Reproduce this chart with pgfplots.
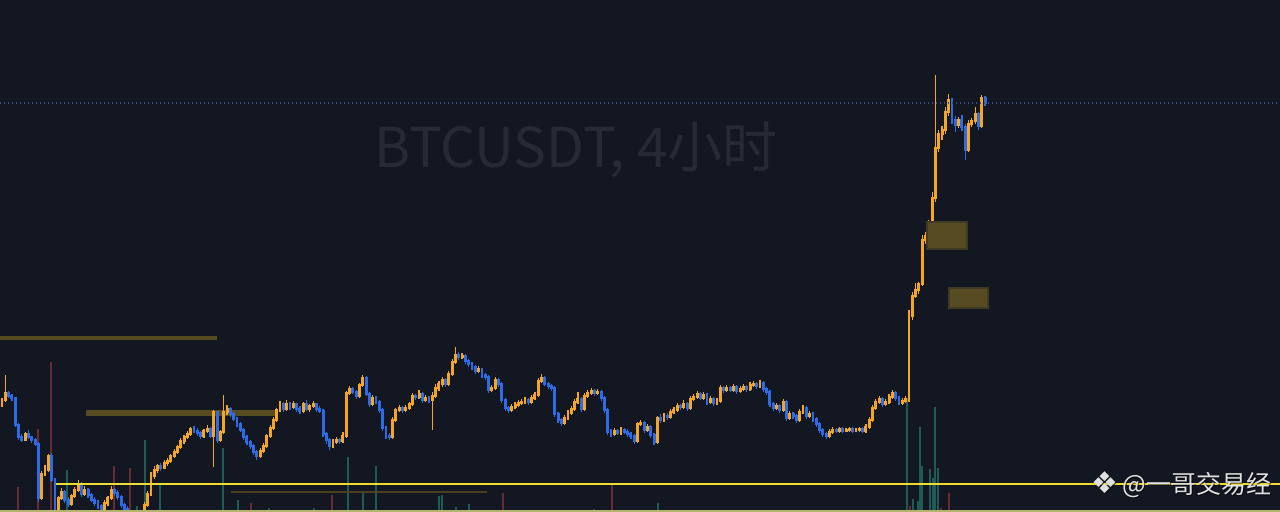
\documentclass[border=0pt]{standalone}
\usepackage{pgfplots}
\pgfplotsset{compat=1.18}
\usepackage{pgfplotstable}
\usepackage{fontspec}
\newfontfamily\cjk{Noto Sans CJK SC}
\newfontfamily\dejavu{DejaVu Sans}
\definecolor{bgc}{HTML}{131722}
\definecolor{upc}{HTML}{F5A623}
\definecolor{dnc}{HTML}{2E6BE6}
\definecolor{volup}{HTML}{1E5A56}
\definecolor{voldn}{HTML}{6A2A33}
\definecolor{zone}{HTML}{574C21}
\definecolor{zonebd}{HTML}{3E3A26}
\definecolor{yel}{HTML}{EEDC34}
\definecolor{botl}{HTML}{B5B46E}
\definecolor{dotc}{HTML}{3A4C84}
\definecolor{titc}{HTML}{262A35}

\pgfplotstableread{
o h l c
108 114 105 112
112 137 110 119
119 121 114 116
116 118 111 114
114 115 85 87
87 89 72 75
75 78 70 72
72 80 71 78
78 82 73 75
75 76 69 72
72 74 66 68
68 70 10 14
14 41 12 38
38 47 36 42
42 58 40 56
56 59 30 32
32 34 -10 -6
-6 16 -9 14
14 24 12 20
20 22 9 12
12 15 5 8
8 18 6 16
16 25 14 22
22 32 20 28
28 30 15 18
18 26 16 22
22 24 14 17
17 19 10 12
12 15 6 9
9 12 3 6
6 8 0 3
3 12 1 9
9 16 6 14
14 26 12 22
22 24 16 19
19 22 12 15
15 17 4 7
7 9 0 3
3 6 -3 0
0 2 -8 -4
-4 -1 -10 -7
-7 -2 -9 -5
-5 1 -7 -2
-2 10 -4 7
7 21 5 18
18 40 16 36
36 46 33 42
42 48 39 46
46 49 41 44
44 52 43 49
49 54 46 51
51 58 49 56
56 63 54 60
60 67 58 65
65 74 63 71
71 77 68 75
75 81 73 78
78 85 76 83
83 86 79 81
81 84 76 79
79 81 73 76
76 83 74 81
81 87 79 83
83 85 74 76
76 102 45 100
100 101 69 72
72 82 70 80
80 117 78 100
100 107 97 103
103 105 95 98
98 100 91 93
93 95 85 88
88 90 80 82
82 84 72 75
75 77 67 70
70 72 63 66
66 68 57 60
60 62 52 56
56 64 54 61
61 69 59 66
66 78 64 76
76 87 74 84
84 95 82 92
92 104 90 102
102 111 100 108
108 110 100 103
103 112 101 108
108 110 102 105
105 111 103 108
108 109 100 103
103 106 98 101
101 110 99 108
108 112 101 103
103 108 100 106
106 111 104 108
108 109 100 103
103 106 99 101
101 103 75 78
78 80 68 72
72 74 62 66
66 73 64 70
70 75 68 72
72 74 68 71
71 80 69 76
76 121 74 119
119 126 117 123
123 125 118 120
120 122 113 116
116 129 114 127
127 137 125 134
134 136 116 118
118 120 105 108
108 117 106 114
114 116 108 110
110 112 99 102
102 104 81 84
84 86 73 76
76 79 72 75
75 95 73 92
92 104 90 102
102 107 100 104
104 106 99 102
102 107 100 104
104 110 102 108
108 119 106 116
116 118 112 115
115 122 113 118
118 120 109 112
112 117 110 114
114 116 109 112
112 120 82 116
116 128 114 124
124 131 121 128
128 135 125 132
132 134 125 128
128 141 126 138
138 153 136 150
150 165 148 157
157 160 152 155
155 159 153 156
156 158 148 151
151 153 145 148
148 150 142 145
145 147 138 141
141 146 139 143
143 144 134 137
137 139 132 135
135 137 119 122
122 127 120 124
124 135 122 132
132 134 125 128
128 130 109 112
112 114 101 104
104 106 99 102
102 108 100 105
105 110 103 107
107 112 105 109
109 113 107 110
110 115 108 112
112 114 107 110
110 117 108 114
114 120 112 117
117 134 115 131
131 138 129 134
134 136 126 128
128 130 123 126
126 128 121 124
124 126 95 98
98 100 89 92
92 94 86 89
89 97 87 94
94 102 92 99
99 106 97 103
103 113 101 110
110 120 108 113
113 115 100 103
103 119 101 116
116 122 114 119
119 124 117 121
121 123 116 119
119 123 117 120
120 122 111 114
114 116 99 102
102 104 77 80
80 83 75 78
78 84 76 81
81 83 77 79
79 85 77 82
82 84 78 80
80 83 75 78
78 80 73 76
76 78 68 71
71 90 69 88
88 92 86 89
89 91 79 82
82 88 80 85
85 87 74 77
77 79 67 70
70 96 68 94
94 98 89 92
92 99 90 96
96 99 92 95
95 103 93 100
100 105 98 102
102 109 100 106
106 108 102 105
105 112 103 108
108 110 101 104
104 116 102 113
113 118 111 115
115 121 113 118
118 120 112 114
114 120 112 117
117 119 107 110
110 116 108 113
113 115 106 109
109 114 107 111
111 127 109 124
124 126 119 122
122 127 120 124
124 126 120 122
122 128 120 125
125 127 118 121
121 126 119 123
123 128 121 125
125 127 120 123
123 130 121 127
127 131 125 128
128 130 123 126
126 132 124 129
129 131 120 123
123 125 117 120
120 122 105 108
108 110 101 104
104 109 102 106
106 108 99 102
102 113 100 110
110 112 91 94
94 101 92 98
98 100 93 96
96 98 89 92
92 103 90 100
100 107 98 104
104 106 93 96
96 101 94 98
98 100 90 93
93 95 85 88
88 90 79 82
82 84 75 78
78 80 73 76
76 83 74 80
80 85 78 82
82 84 79 81
81 85 79 83
83 85 79 81
81 84 80 82
82 85 80 83
83 85 79 81
81 84 80 82
82 85 80 83
83 85 79 81
81 88 79 85
85 95 83 92
92 107 90 104
104 113 102 110
110 116 108 113
113 115 105 108
108 113 106 110
110 118 108 115
115 122 113 119
119 121 111 114
114 116 107 109
109 114 107 111
111 116 109 113
113 202 110 196
196 220 192 216
216 229 214 222
222 230 218 228
228 277 226 272
272 280 268 276
276 292 273 288
288 320 286 314
314 437 310 364
364 382 360 378
378 386 372 382
382 405 378 400
400 418 396 412
412 414 388 392
392 396 380 387
387 395 384 392
392 397 381 385
385 388 352 362
362 392 360 388
388 394 385 391
391 405 388 398
398 400 382 386
386 417 384 414
414 416 406 409
}\btc

\pgfplotstableread{
x v
67 42
137 6
145 72
160 27
223 64
238 12
269 4
314 4
348 55
363 20
376 46
439 16
442 17
456 5
469 8
594 3
658 9
907 114
913 13
918 11
920 85
922 46
930 43
933 34
935 105
938 44
}\volup

\pgfplotstableread{
x v
18 25
38 83
51 150
114 46
130 44
251 9
332 17
503 19
612 27
910 6
941 4
949 19
}\voldn

\begin{document}
\begin{tikzpicture}
\fill[bgc] (0,0) rectangle (640pt,256pt);
\node[anchor=base, text=titc, font=\cjk\fontsize{27.5}{30}\selectfont, inner sep=0pt] at (288pt,172pt) {BTCUSDT, 4小时};
\begin{axis}[
  at={(0,0)}, anchor=origin,
  scale only axis, width=640pt, height=256pt,
  xmin=0, xmax=1280, ymin=0, ymax=512,
  hide axis, clip=true,
]
% volume bars
\addplot[ycomb, draw=volup, line width=1pt, mark=none] table[x=x,y=v] {\volup};
\addplot[ycomb, draw=voldn, line width=1pt, mark=none] table[x=x,y=v] {\voldn};
% zones
\addplot[draw=zone, line width=2pt, mark=none] coordinates {(0,174) (217,174)};
\addplot[draw=zone, line width=2.8pt, mark=none] coordinates {(86,99) (278,99)};
\addplot[draw=zone!85!black, line width=1pt, mark=none] coordinates {(231,19.5) (487,19.5)};
% wicks up
\addplot[draw=none, mark=none,
  error bars/.cd, y dir=both, y explicit, error mark=none,
  error bar style={draw=upc, line width=0.6pt}]
  table[x expr=2+3.31*\coordindex,
        y expr={\thisrow{c}<\thisrow{o} ? nan : (\thisrow{h}+\thisrow{l})/2},
        y error expr={(\thisrow{h}-\thisrow{l})/2}] {\btc};
% wicks down
\addplot[draw=none, mark=none,
  error bars/.cd, y dir=both, y explicit, error mark=none,
  error bar style={draw=dnc, line width=0.6pt}]
  table[x expr=2+3.31*\coordindex,
        y expr={\thisrow{c}<\thisrow{o} ? (\thisrow{h}+\thisrow{l})/2 : nan},
        y error expr={(\thisrow{h}-\thisrow{l})/2}] {\btc};
% bodies up
\addplot[draw=none, mark=none,
  error bars/.cd, y dir=both, y explicit, error mark=none,
  error bar style={draw=upc, line width=1.45pt}]
  table[x expr=2+3.31*\coordindex,
        y expr={\thisrow{c}<\thisrow{o} ? nan : (\thisrow{o}+\thisrow{c})/2},
        y error expr={abs(\thisrow{c}-\thisrow{o})/2+0.6}] {\btc};
% bodies down
\addplot[draw=none, mark=none,
  error bars/.cd, y dir=both, y explicit, error mark=none,
  error bar style={draw=dnc, line width=1.45pt}]
  table[x expr=2+3.31*\coordindex,
        y expr={\thisrow{c}<\thisrow{o} ? (\thisrow{o}+\thisrow{c})/2 : nan},
        y error expr={abs(\thisrow{c}-\thisrow{o})/2+0.6}] {\btc};
% rectangles
\addplot[fill=zone, draw=zonebd, line width=0.6pt, mark=none] coordinates {(927,290) (967,290) (967,263) (927,263)} -- cycle;
\addplot[fill=zone, draw=zonebd, line width=0.6pt, mark=none] coordinates {(949,224) (988,224) (988,204) (949,204)} -- cycle;
% lines
\addplot[draw=yel, line width=1pt, mark=none] coordinates {(56,27.5) (1280,27.5)};
\addplot[draw=botl, line width=1pt, mark=none] coordinates {(0,1) (1280,1)};
\addplot[draw=dotc, line width=0.6pt, dash pattern=on 0.6pt off 1.4pt, mark=none] coordinates {(0,409) (1280,409)};
\end{axis}
\node[anchor=base east, text=black, opacity=0.6, inner sep=0pt, font=\cjk\fontsize{12.5}{14}\selectfont] at (636.5pt,8.6pt) {{\dejavu\fontsize{15}{16}\selectfont ❖}\,@一哥交易经};
\node[anchor=base east, text=white!88!black, inner sep=0pt, font=\cjk\fontsize{12.5}{14}\selectfont] at (636pt,9pt) {{\dejavu\fontsize{15}{16}\selectfont ❖}\,@一哥交易经};
\end{tikzpicture}
\end{document}
